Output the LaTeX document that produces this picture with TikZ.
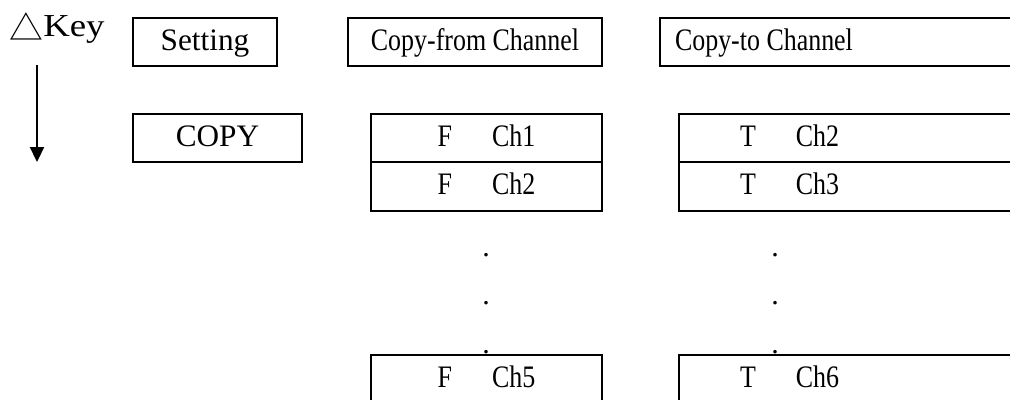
\documentclass[tikz,border=0pt]{standalone}
\usepackage{fontspec}
\setmainfont{Liberation Serif}
\newfontfamily\narrowfont{Liberation Serif}[FakeStretch=0.83]
\newfontfamily\keyfont{Liberation Serif}[FakeStretch=1.15]
\newfontfamily\cjk{Noto Sans CJK SC}
\usetikzlibrary{positioning,arrows.meta}

\begin{document}
\begin{tikzpicture}[
    x=0.4pt, y=-0.4pt,
    keybox/.style={rectangle, draw=black, line width=0.8pt, outer sep=0pt, minimum height=19.4pt, text height=8.2pt, text depth=1.6pt, inner sep=0pt, font=\fontsize{12.5pt}{14pt}\selectfont},
    chbox/.style={keybox, font=\fontsize{12.5pt}{14pt}\selectfont\narrowfont},
    openbox/.style={chbox, text width=#1, align=flush left},
    dotlabel/.style={inner sep=0pt, anchor=base, font=\fontsize{12pt}{14pt}\selectfont},
    arrow/.style={-{Triangle[length=6pt,width=5.6pt]}, line width=0.9pt}
]
\useasboundingbox (0,0) rectangle (1010,399);

% Key
\node[anchor=base west, inner sep=0pt] (key) at (9,37) {\raisebox{-1.4pt}{\fontsize{13.5pt}{14pt}\selectfont\cjk △}{\fontsize{12.8pt}{14pt}\selectfont\keyfont Key}};
\coordinate (keytop) at (37,65);
\coordinate (keyend) at (37,162);

% Nodes
\node[keybox, minimum width=57.6pt, anchor=west] (setting) at (133,42) {Setting};
\node[keybox, minimum width=67.6pt, anchor=west] (copy) at (133,138) {COPY};
\node[chbox, minimum width=101.6pt, anchor=west] (copyfrom) at (348,42) {Copy-from Channel};
\node[openbox=142.4pt, anchor=west] (copyto) at (660,42) {\hspace*{6pt}Copy-to Channel};

\node[chbox, minimum width=92.4pt, anchor=west] (fch1) at (371,138) {F\hspace{16pt}Ch1};
\node[chbox, minimum width=92.4pt, below=0pt of fch1] (fch2) {F\hspace{16pt}Ch2};
\node[chbox, minimum width=92.4pt, below=57.6pt of fch2] (fch5) {F\hspace{16pt}Ch5};

\node[openbox=134.8pt, anchor=west] (tch2) at (679,138) {\hspace*{24.4pt}T\hspace{16pt}Ch2};
\node[openbox=134.8pt, below=0pt of tch2] (tch3) {\hspace*{24.4pt}T\hspace{16pt}Ch3};
\node[openbox=134.8pt, below=57.6pt of tch3] (tch6) {\hspace*{24.4pt}T\hspace{16pt}Ch6};

% Dots
\foreach \y [count=\i] in {256.5,304.5,353.5} {
    \node[dotlabel] (fdot\i) at (486,\y) {.};
    \node[dotlabel] (tdot\i) at (775,\y) {.};
}

% Arrows
\draw[arrow] (keytop) -- (keyend);

\end{tikzpicture}
\end{document}
